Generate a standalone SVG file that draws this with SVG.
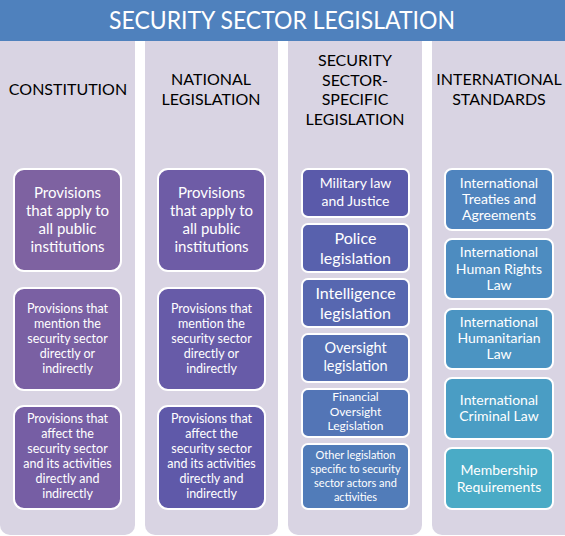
<svg xmlns="http://www.w3.org/2000/svg" width="565" height="536" viewBox="0 0 565 536">
<style>
.bg{fill:#D9D4E3}
.box{stroke:#FFFFFF;stroke-width:2}
.t{font-family:Lato,"Liberation Sans",sans-serif;fill:#FFFFFF;text-anchor:middle}
.h{font-family:Lato,"Liberation Sans",sans-serif;fill:#000000;text-anchor:middle;font-size:16px}
</style>
<rect x="0" y="0" width="565" height="536" fill="#FFFFFF"/>
<g id="title">
<rect x="0" y="0" width="565" height="41" fill="#4F81BD"/>
<text x="282" y="29" class="t" style="font-size:25px" textLength="346" lengthAdjust="spacingAndGlyphs">SECURITY SECTOR LEGISLATION</text>
</g>
<g id="col-constitution">
<path class="bg" d="M0,41H135V525a10,10 0 0 1 -10,10H10a10,10 0 0 1 -10,-10Z"/>
<text x="68" y="95" class="h">CONSTITUTION</text>
</g>
<g id="col-national">
<path class="bg" d="M145,41H278V525a10,10 0 0 1 -10,10H155a10,10 0 0 1 -10,-10Z"/>
<text x="211" y="85" class="h">NATIONAL</text>
<text x="211" y="105" class="h">LEGISLATION</text>
</g>
<g id="col-sssl">
<path class="bg" d="M288,41H422V525a10,10 0 0 1 -10,10H298a10,10 0 0 1 -10,-10Z"/>
<text x="355" y="66" class="h">SECURITY</text>
<text x="355" y="86" class="h">SECTOR-</text>
<text x="355" y="105" class="h">SPECIFIC</text>
<text x="355" y="125" class="h">LEGISLATION</text>
</g>
<g id="col-intl">
<path class="bg" d="M432,41H565V535H442a10,10 0 0 1 -10,-10Z"/>
<text x="499" y="85" class="h">INTERNATIONAL</text>
<text x="499" y="105" class="h">STANDARDS</text>
</g>

<g id="c1b1"><rect class="box" x="14" y="169" width="107" height="102" rx="10" fill="#7E62A1"/>
<text class="t" style="font-size:15px"><tspan x="67.5" y="198">Provisions</tspan><tspan x="67.5" y="216">that apply to</tspan><tspan x="67.5" y="234">all public</tspan><tspan x="67.5" y="252">institutions</tspan></text></g>
<g id="c1b2"><rect class="box" x="14" y="288" width="107" height="102" rx="10" fill="#7A60A3"/>
<text class="t" style="font-size:12.5px"><tspan x="67.5" y="312.5">Provisions that</tspan><tspan x="67.5" y="327.5">mention the</tspan><tspan x="67.5" y="342.5">security sector</tspan><tspan x="67.5" y="357.5">directly or</tspan><tspan x="67.5" y="372.5">indirectly</tspan></text></g>
<g id="c1b3"><rect class="box" x="14" y="406" width="107" height="103" rx="10" fill="#765EA4"/>
<text class="t" style="font-size:12.5px"><tspan x="67.5" y="422.5">Provisions that</tspan><tspan x="67.5" y="437.5">affect the</tspan><tspan x="67.5" y="452.5">security sector</tspan><tspan x="67.5" y="467.5">and its activities</tspan><tspan x="67.5" y="482.5">directly and</tspan><tspan x="67.5" y="497.5">indirectly</tspan></text></g>

<g id="c2b1"><rect class="box" x="158" y="169" width="107" height="102" rx="10" fill="#6E5CA6"/>
<text class="t" style="font-size:15px"><tspan x="211.5" y="198">Provisions</tspan><tspan x="211.5" y="216">that apply to</tspan><tspan x="211.5" y="234">all public</tspan><tspan x="211.5" y="252">institutions</tspan></text></g>
<g id="c2b2"><rect class="box" x="158" y="288" width="107" height="102" rx="10" fill="#675BA8"/>
<text class="t" style="font-size:12.5px"><tspan x="211.5" y="312.5">Provisions that</tspan><tspan x="211.5" y="327.5">mention the</tspan><tspan x="211.5" y="342.5">security sector</tspan><tspan x="211.5" y="357.5">directly or</tspan><tspan x="211.5" y="372.5">indirectly</tspan></text></g>
<g id="c2b3"><rect class="box" x="158" y="406" width="107" height="103" rx="10" fill="#5F59A9"/>
<text class="t" style="font-size:12.5px"><tspan x="211.5" y="422.5">Provisions that</tspan><tspan x="211.5" y="437.5">affect the</tspan><tspan x="211.5" y="452.5">security sector</tspan><tspan x="211.5" y="467.5">and its activities</tspan><tspan x="211.5" y="482.5">directly and</tspan><tspan x="211.5" y="497.5">indirectly</tspan></text></g>

<g id="c3b1"><rect class="box" x="302" y="169" width="107" height="48" rx="6" fill="#5A5AAA"/>
<text class="t" style="font-size:14px"><tspan x="355.5" y="188">Military law</tspan><tspan x="355.5" y="206">and Justice</tspan></text></g>
<g id="c3b2"><rect class="box" x="302" y="224" width="107" height="48" rx="6" fill="#5861AD"/>
<text class="t" style="font-size:16px"><tspan x="355.5" y="243.5">Police</tspan><tspan x="355.5" y="263.5">legislation</tspan></text></g>
<g id="c3b3"><rect class="box" x="302" y="279" width="107" height="48" rx="6" fill="#5767B0"/>
<text class="t" style="font-size:16px"><tspan x="355.5" y="298.5">Intelligence</tspan><tspan x="355.5" y="318.5">legislation</tspan></text></g>
<g id="c3b4"><rect class="box" x="302" y="334" width="107" height="48" rx="6" fill="#556FB3"/>
<text class="t" style="font-size:14.5px"><tspan x="355.5" y="353">Oversight</tspan><tspan x="355.5" y="371">legislation</tspan></text></g>
<g id="c3b5"><rect class="box" x="302" y="389" width="107" height="48" rx="6" fill="#5375B6"/>
<text class="t" style="font-size:12px"><tspan x="355.5" y="401">Financial</tspan><tspan x="355.5" y="416">Oversight</tspan><tspan x="355.5" y="430">Legislation</tspan></text></g>
<g id="c3b6"><rect class="box" x="302" y="444" width="107" height="65" rx="6" fill="#517CB9"/>
<text class="t" style="font-size:11px"><tspan x="355.5" y="459">Other legislation</tspan><tspan x="355.5" y="473">specific to security</tspan><tspan x="355.5" y="487">sector actors and</tspan><tspan x="355.5" y="501">activities</tspan></text></g>

<g id="c4b1"><rect class="box" x="445" y="169" width="108" height="61" rx="7" fill="#4F84BE"/>
<text class="t" style="font-size:14px"><tspan x="499" y="188">International</tspan><tspan x="499" y="204">Treaties and</tspan><tspan x="499" y="220">Agreements</tspan></text></g>
<g id="c4b2"><rect class="box" x="445" y="239" width="108" height="60" rx="7" fill="#4D8CC0"/>
<text class="t" style="font-size:14px"><tspan x="499" y="257">International</tspan><tspan x="499" y="274">Human Rights</tspan><tspan x="499" y="290">Law</tspan></text></g>
<g id="c4b3"><rect class="box" x="445" y="309" width="108" height="60" rx="7" fill="#4B94C2"/>
<text class="t" style="font-size:14px"><tspan x="499" y="327">International</tspan><tspan x="499" y="343">Humanitarian</tspan><tspan x="499" y="359">Law</tspan></text></g>
<g id="c4b4"><rect class="box" x="445" y="378" width="108" height="61" rx="7" fill="#4A9DC4"/>
<text class="t" style="font-size:14px"><tspan x="499" y="405">International</tspan><tspan x="499" y="421">Criminal Law</tspan></text></g>
<g id="c4b5"><rect class="box" x="445" y="448" width="108" height="61" rx="7" fill="#4AABC6"/>
<text class="t" style="font-size:14px"><tspan x="499" y="475">Membership</tspan><tspan x="499" y="492">Requirements</tspan></text></g>
<g id="connectors"></g>
</svg>
